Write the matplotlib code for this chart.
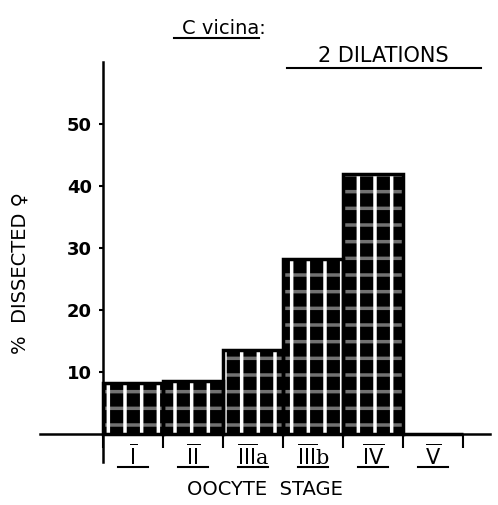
import matplotlib.pyplot as plt
import numpy as np

# oocyte stages and % of dissected females (2 dilations)
stages = ["I", "II", "III", "III", "IV", "V"]
suffix = ["", "", "a", "b", "", ""]
percent = [8.3, 8.5, 13.5, 28.3, 42.0, 0.0]
yticks = [10, 20, 30, 40, 50]

plt.rcParams['hatch.linewidth'] = 2.5
plt.rcParams['font.family'] = ['DejaVu Sans']

fig = plt.figure(figsize=(4.98, 5.05), dpi=100)
ax = fig.add_axes([0.0803, 0.0851, 0.9036, 0.792])

x = np.arange(len(stages))
# brick-like fill: black body with white mortar
ax.bar(x, percent, width=1.0, color='black', edgecolor='white',
       hatch='|', linewidth=0)
ax.bar(x, percent, width=1.0, color='none', edgecolor='white',
       hatch='-', linewidth=0, alpha=0.45)
ax.bar(x, percent, width=1.0, fill=False, edgecolor='black', linewidth=2.5)

ax.set_xlim(-1.55, 5.95)
ax.set_ylim(-4.5, 60)

for s in ['top', 'right']:
    ax.spines[s].set_visible(False)
ax.spines['left'].set_position(('data', -0.5))
ax.spines['left'].set_linewidth(1.8)
ax.spines['bottom'].set_position(('data', 0))
ax.spines['bottom'].set_linewidth(1.8)

ax.set_yticks(yticks)
ax.set_yticklabels([str(v) for v in yticks], fontsize=13, fontweight='bold')
ax.tick_params(axis='y', direction='out', length=3, width=1.5, pad=5)

ax.set_xticks(np.arange(-0.5, 6.0, 1.0))
ax.set_xticklabels([])
ax.tick_params(axis='x', direction='out', length=10, width=1.5)

# roman-numeral stage labels, barred above and below
for i, (s, suf) in enumerate(zip(stages, suffix)):
    lab = r"$\overline{\mathrm{%s}}$" % s
    ax.text(i, -3.5, lab + suf, ha='center', va='center', fontsize=15,
            family='DejaVu Serif')
    ax.plot([i - 0.25, i + 0.25], [-5.3, -5.3], color='black', lw=1.5,
            clip_on=False)

ax.text(2.2, -8.9, "OOCYTE  STAGE", ha='center', va='center', fontsize=14)
ax.text(-1.88, 26, "%  DISSECTED \u2640", rotation=90, ha='center',
        va='center', fontsize=14)

fig.text(0.45, 0.944, "C vicina:", ha='center', va='center', fontsize=14)
fig.add_artist(plt.Line2D([0.35, 0.52], [0.925, 0.925], color='black', lw=1.5))
fig.text(0.77, 0.89, "2 DILATIONS", ha='center', va='center', fontsize=15)
fig.add_artist(plt.Line2D([0.577, 0.965], [0.866, 0.866], color='black', lw=1.5))

fig.savefig("out.png", dpi=100)
